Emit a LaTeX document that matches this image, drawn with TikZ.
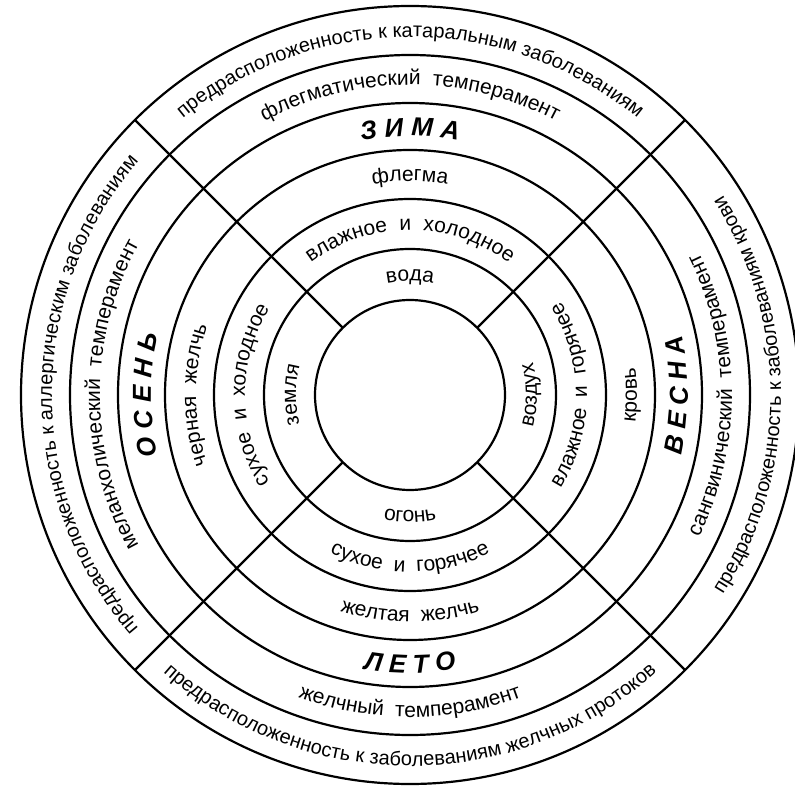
\documentclass[tikz,border=0pt]{standalone}
\usepackage{fontspec}
\setmainfont{Liberation Sans}
\usetikzlibrary{decorations.text}

\newcommand{\outerfont}{\fontsize{20}{24}\selectfont}
\newcommand{\labelfont}{\fontsize{21}{25}\selectfont}
\newcommand{\seasonfont}{\fontsize{26}{30}\selectfont\bfseries\itshape}

\begin{document}
\begin{tikzpicture}[
    x=1pt, y=1pt,
    ring/.style={
        draw=black,
        line width=2.2pt
    },
    divider/.style={
        draw=black,
        line width=2.2pt
    },
    arctext/.style={
        decorate,
        decoration={
            text along path,
            text align=center,
            text={#1}
        }
    }
]

    \useasboundingbox (-410,-394) rectangle (385,395);
    \coordinate (centre) at (0,0);

    % -- Rings and sector borders --
    \foreach \r in {95,146,196,245,292,340,389}
        \draw[ring] (centre) circle[radius=\r];
    \foreach \a in {45,135,225,315}
        \draw[divider] (\a:95) -- (\a:389);

    % -- Top: winter (clockwise, tops outward) --
    \path[arctext={|\outerfont|предрасположенность к катаральным заболеваниям}]
        (135:358) arc[start angle=135, end angle=45, radius=358];
    \path[arctext={|\labelfont|флегматический{\ \ }темперамент}]
        (135:310) arc[start angle=135, end angle=45, radius=310];
    \path[arctext={|\seasonfont|З И М А}]
        (135:259) arc[start angle=135, end angle=45, radius=259];
    \path[arctext={|\labelfont|флегма}]
        (135:214) arc[start angle=135, end angle=45, radius=214];
    \path[arctext={|\labelfont|влажное{\ \ }и{\ \ }холодное}]
        (135:165) arc[start angle=135, end angle=45, radius=165];
    \path[arctext={|\labelfont|вода}]
        (135:114) arc[start angle=135, end angle=45, radius=114];

    % -- Left: autumn (clockwise, tops outward) --
    \path[arctext={|\outerfont|предрасположенность к аллергическим заболеваниям}]
        (225:358) arc[start angle=225, end angle=135, radius=358];
    \path[arctext={|\labelfont|меланхолический{\ \ }темперамент}]
        (225:310) arc[start angle=225, end angle=135, radius=310];
    \path[arctext={|\seasonfont|О С Е Н Ь}]
        (225:259) arc[start angle=225, end angle=135, radius=259];
    \path[arctext={|\labelfont|черная{\ \ }желчь}]
        (225:214) arc[start angle=225, end angle=135, radius=214];
    \path[arctext={|\labelfont|сухое{\ \ }и{\ \ }холодное}]
        (225:165) arc[start angle=225, end angle=135, radius=165];
    \path[arctext={|\labelfont|земля}]
        (225:114) arc[start angle=225, end angle=135, radius=114];

    % -- Bottom: summer (counter-clockwise, tops inward) --
    \path[arctext={|\outerfont|предрасположенность к заболеваниям желчных протоков}]
        (225:371) arc[start angle=225, end angle=315, radius=371];
    \path[arctext={|\labelfont|желчный{\ \ }темперамент}]
        (225:322) arc[start angle=225, end angle=315, radius=322];
    \path[arctext={|\seasonfont|Л Е Т О}]
        (225:278) arc[start angle=225, end angle=315, radius=278];
    \path[arctext={|\labelfont|желтая{\ \ }желчь}]
        (225:227) arc[start angle=225, end angle=315, radius=227];
    \path[arctext={|\labelfont|сухое{\ \ }и{\ \ }горячее}]
        (225:177) arc[start angle=225, end angle=315, radius=177];
    \path[arctext={|\labelfont|огонь}]
        (225:127) arc[start angle=225, end angle=315, radius=127];

    % -- Right: spring (counter-clockwise, tops inward) --
    \path[arctext={|\outerfont|предрасположенность к заболеваниям крови}]
        (-45:371) arc[start angle=-45, end angle=45, radius=371];
    \path[arctext={|\labelfont|сангвинический{\ \ }темперамент}]
        (-45:322) arc[start angle=-45, end angle=45, radius=322];
    \path[arctext={|\seasonfont|В Е С Н А}]
        (-45:278) arc[start angle=-45, end angle=45, radius=278];
    \path[arctext={|\labelfont|кровь}]
        (-45:227) arc[start angle=-45, end angle=45, radius=227];
    \path[arctext={|\labelfont|влажное{\ \ }и{\ \ }горячее}]
        (-45:177) arc[start angle=-45, end angle=45, radius=177];
    \path[arctext={|\labelfont|воздух}]
        (-45:127) arc[start angle=-45, end angle=45, radius=127];

\end{tikzpicture}
\end{document}
